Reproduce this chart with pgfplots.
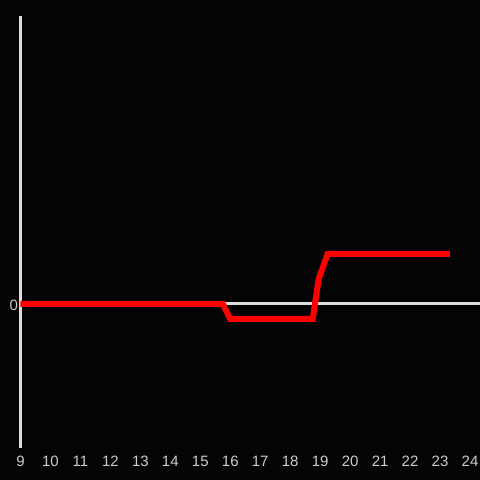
\documentclass[border=0pt]{standalone}
\usepackage{pgfplots}
\pgfplotsset{compat=1.18}
\usepackage{fontspec}
\setmainfont{Liberation Sans}
\definecolor{bg}{RGB}{4,3,6}
\definecolor{axcol}{RGB}{222,222,218}
\definecolor{labcol}{RGB}{205,205,205}

\begin{document}
\begin{tikzpicture}[x=1pt,y=1pt]
  \path[use as bounding box, fill=bg] (0,0) rectangle (480,480);
  \begin{axis}[
    at={(20.5pt,32pt)}, anchor=south west,
    scale only axis, width=459.5pt, height=432pt,
    xmin=9, xmax=24.3333, ymin=-2.88, ymax=5.76,
    axis y line*=left, axis x line*=bottom,
    y axis line style={-, draw=axcol, line width=3pt},
    x axis line style={draw=none},
    xtick={9,10,...,24}, ytick={0},
    tick style={draw=none},
    ymajorgrids=true,
    major grid style={draw=axcol, line width=3pt},
    ticklabel style={font=\fontsize{15}{18}\selectfont, text=labcol},
    /pgf/number format/assume math mode=true,
    xticklabel style={anchor=base, yshift=-18pt},
    yticklabel style={xshift=1pt, yshift=-1pt},
  ]
  \addplot[red, line width=6pt, mark=none] coordinates {
    (9,0) (15.75,0) (16,-0.3) (18.75,-0.3) (18.95,0.5) (19.25,1) (23.33,1)
  };
  \end{axis}
\end{tikzpicture}
\end{document}
